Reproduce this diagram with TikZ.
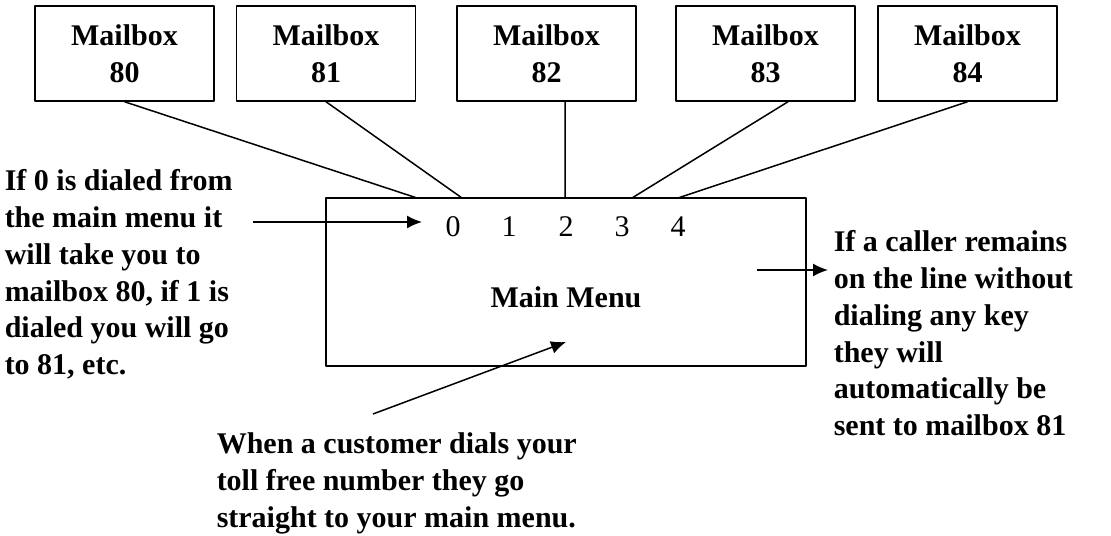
\documentclass[tikz,border=0pt]{standalone}
\usepackage{fontspec}
\setmainfont{Liberation Serif}
\usetikzlibrary{arrows.meta}
\newcommand{\menufont}{\fontsize{30bp}{36.8bp}\selectfont}

\begin{document}
\begin{tikzpicture}[>={Latex[length=15bp,width=13bp]},line join=bevel,
  mailbox/.style={draw,minimum width=179bp,minimum height=95bp,align=center,font=\menufont\bfseries},
  note/.style={inner sep=0pt,anchor=north west,align=left,font=\menufont\bfseries},
  key/.style={inner sep=0pt,font=\menufont}]
  \pgfsetlinewidth{1.5bp}
  \useasboundingbox (0bp,0bp) rectangle (1111bp,536bp);
%%
  % Node: Mailbox80
  \node[mailbox] (mb80) at (124.5bp,482.5bp) {Mailbox\\80};
  % Node: Mailbox81
  \node[mailbox] (mb81) at (326bp,482.5bp) {Mailbox\\81};
  % Node: Mailbox82
  \node[mailbox] (mb82) at (546.5bp,482.5bp) {Mailbox\\82};
  % Node: Mailbox83
  \node[mailbox] (mb83) at (765.5bp,482.5bp) {Mailbox\\83};
  % Node: Mailbox84
  \node[mailbox] (mb84) at (967.5bp,482.5bp) {Mailbox\\84};
  % Node: Menu
  \node[draw,minimum width=480bp,minimum height=168bp] (menu) at (566bp,254bp) {};
  \node[font=\menufont\bfseries] (title) at (566bp,239bp) {Main Menu};
  \node[key] (k0) at (453bp,309bp) {0};
  \node[key] (k1) at (509bp,309bp) {1};
  \node[key] (k2) at (566bp,309bp) {2};
  \node[key] (k3) at (622bp,309bp) {3};
  \node[key] (k4) at (678bp,309bp) {4};
  \coordinate (t0) at (417bp,338bp);
  \coordinate (t1) at (462bp,338bp);
  \coordinate (t2) at (565bp,338bp);
  \coordinate (t3) at (632bp,338bp);
  \coordinate (t4) at (678bp,338bp);
  % Node: notes
  \node[note] (dialnote) at (4bp,371.8bp) {\strut If 0 is dialed from\\the main menu it\\will take you to\\mailbox 80, if 1 is\\dialed you will go\\to 81, etc.};
  \node[note] (waitnote) at (833bp,310.8bp) {\strut If a caller remains\\on the line without\\dialing any key\\they will\\automatically be\\sent to mailbox 81};
  \node[note] (callnote) at (216bp,108.8bp) {\strut When a customer dials your\\toll free number they go\\straight to your main menu.};
  \coordinate (dialtail) at (253bp,314bp);
  \coordinate (dialtip) at (422bp,314bp);
  \coordinate (waittail) at (757bp,266bp);
  \coordinate (waittip) at (828bp,266bp);
  \coordinate (calltail) at (373bp,122bp);
  \coordinate (calltip) at (566bp,194bp);
  % Edge: Mailboxes -> Menu
  \draw (mb80.south) -- (t0);
  \draw (mb81.south) -- (t1);
  \draw ([xshift=18.5bp]mb82.south) -- (t2);
  \draw ([xshift=22.5bp]mb83.south) -- (t3);
  \draw (mb84.south) -- (t4);
  % Edge: notes
  \draw [->] (dialtail) -- (dialtip);
  \draw [->] (waittail) -- (waittip);
  \draw [->] (calltail) -- (calltip);
%
\end{tikzpicture}
\end{document}
